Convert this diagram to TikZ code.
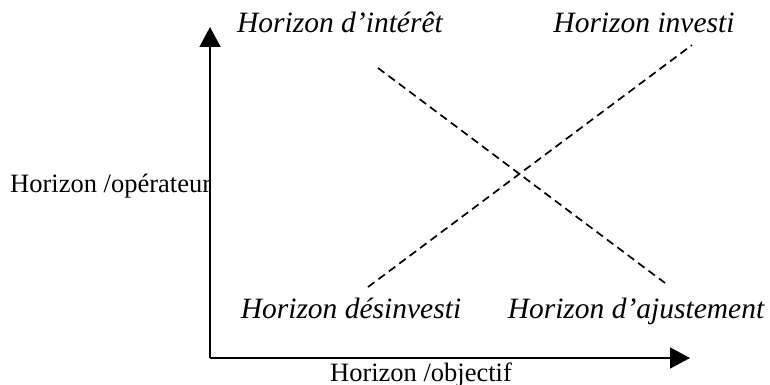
\documentclass[tikz,border=0pt]{standalone}
\usepackage{fontspec}
\setmainfont{Liberation Serif}
\usetikzlibrary{arrows.meta}
\begin{document}
\begin{tikzpicture}[x=1pt,y=-1pt,
  lbl/.style={inner sep=0pt,anchor=base,font=\fontsize{26.5}{30}\selectfont},
  ilbl/.style={lbl,font=\fontsize{29.5}{33}\selectfont\itshape},
  axis/.style={line width=1.6pt,-{Triangle[length=20pt,width=21pt]}},
  dashline/.style={line width=1.7pt,dash pattern=on 8pt off 5pt}]
\useasboundingbox (0,0) rectangle (770,385);
\coordinate (o) at (210,358);
\coordinate (ytip) at (210,27);
\coordinate (xtip) at (690,358);
\draw[axis] (o) -- (ytip);
\draw[axis] (o) -- (xtip);
\coordinate (a1) at (378,68);
\coordinate (a2) at (665,283);
\coordinate (b1) at (368,287);
\coordinate (b2) at (692,45);
\draw[dashline] (a1) -- (a2);
\draw[dashline] (b1) -- (b2);
\node[ilbl] (interet) at (340,33) {Horizon d’intérêt};
\node[ilbl] (investi) at (644,33) {Horizon investi};
\node[ilbl] (desinv) at (351,318) {Horizon désinvesti};
\node[ilbl] (ajust) at (636,318) {Horizon d’ajustement};
\node[lbl,anchor=base west] (oper) at (10,192) {Horizon /opérateur};
\node[lbl] (objectif) at (421,381) {Horizon /objectif};
\end{tikzpicture}
\end{document}
